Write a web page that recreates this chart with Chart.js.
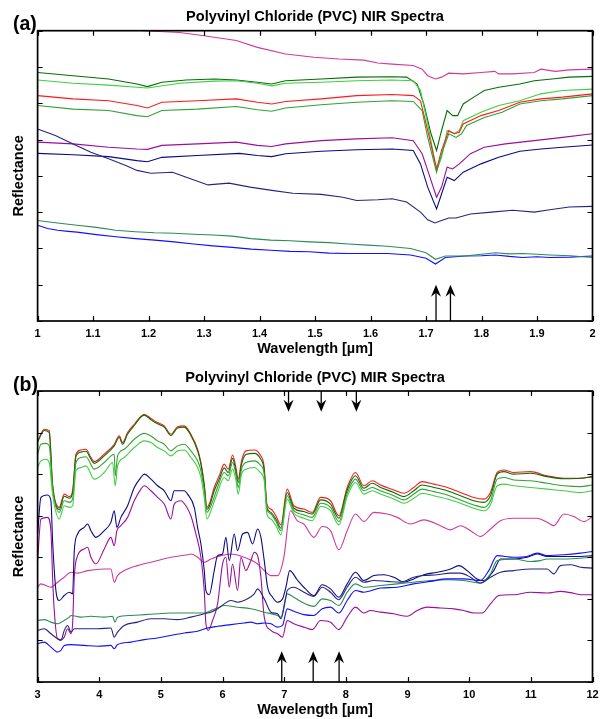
<!DOCTYPE html>
<html><head><meta charset="utf-8">
<script src="https://cdn.jsdelivr.net/npm/chart.js@4.4.0/dist/chart.umd.min.js"></script>
<style>
html,body{margin:0;padding:0;background:#fff;}
#wrap{position:relative;width:607px;height:719px;background:#fff;}
canvas{position:absolute;left:0;}
#ca{top:0;} #cb{top:360px;}
</style></head><body>
<div id="wrap"><canvas id="ca" width="607" height="360"></canvas><canvas id="cb" width="607" height="359"></canvas></div>
<script>
// ---------- Panel (a): NIR spectra, wavelength [um] vs reflectance (relative, tick units) ----------
const NIR_XTICKS = [1, 1.1, 1.2, 1.3, 1.4, 1.5, 1.6, 1.7, 1.8, 1.9, 2];
const NIR_XLABELS = ['1','1.1','1.2','1.3','1.4','1.5','1.6','1.7','1.8','1.9','2'];
const NIR_YTICKS = [0,1,2,3,4,5,6,7,8];

const NIR_PINK = [[1.0,8.25],[1.192,8.0],[1.256,7.95],[1.300,7.86],[1.358,7.73],[1.396,7.54],[1.447,7.36],[1.498,7.27],[1.543,7.22],[1.588,7.19],[1.613,7.11],[1.639,7.08],[1.677,7.04],[1.693,6.94],[1.703,6.76],[1.717,6.67],[1.728,6.72],[1.741,6.83],[1.767,6.81],[1.799,6.85],[1.824,6.88],[1.831,6.81],[1.856,6.81],[1.895,6.85],[1.907,6.94],[1.933,6.88],[1.958,6.92],[2.0,6.94]];
const NIR_DKGREEN = [[1.0,6.85],[1.064,6.76],[1.128,6.67],[1.179,6.53],[1.198,6.46],[1.224,6.58],[1.268,6.64],[1.319,6.67],[1.358,6.64],[1.396,6.58],[1.422,6.53],[1.447,6.62],[1.511,6.67],[1.575,6.72],[1.639,6.73],[1.665,6.72],[1.684,6.53],[1.696,5.98],[1.709,5.16],[1.719,4.70],[1.728,5.25],[1.738,5.80],[1.748,5.66],[1.757,5.66],[1.767,5.98],[1.786,6.17],[1.805,6.35],[1.831,6.44],[1.869,6.53],[1.895,6.62],[1.927,6.67],[1.958,6.72],[2.0,6.74]];
const NIR_LTGREEN = [[1.0,6.64],[1.064,6.55],[1.128,6.50],[1.179,6.44],[1.198,6.42],[1.256,6.55],[1.319,6.61],[1.358,6.62],[1.396,6.55],[1.422,6.48],[1.447,6.55],[1.511,6.58],[1.575,6.62],[1.639,6.64],[1.677,6.62],[1.690,6.35],[1.703,5.43],[1.719,4.15],[1.728,4.51],[1.738,5.25],[1.751,5.16],[1.760,5.25],[1.767,5.52],[1.799,5.75],[1.831,5.94],[1.869,6.07],[1.907,6.26],[1.946,6.35],[2.0,6.39]];
const NIR_RED = [[1.0,6.21],[1.064,6.12],[1.128,6.07],[1.179,5.94],[1.198,5.87],[1.224,6.03],[1.288,6.07],[1.358,6.12],[1.396,6.03],[1.422,5.98],[1.447,6.05],[1.511,6.12],[1.575,6.21],[1.639,6.24],[1.677,6.21],[1.690,6.07],[1.703,5.25],[1.719,4.19],[1.728,4.70],[1.741,5.25],[1.751,5.16],[1.760,5.20],[1.767,5.43],[1.799,5.66],[1.831,5.80],[1.869,6.03],[1.907,6.12],[1.946,6.17],[2.0,6.26]];
const NIR_MIDGREEN = [[1.0,5.94],[1.064,5.84],[1.128,5.80],[1.179,5.66],[1.198,5.63],[1.224,5.80],[1.288,5.84],[1.358,5.91],[1.396,5.82],[1.422,5.78],[1.447,5.87],[1.511,5.96],[1.575,6.03],[1.639,6.07],[1.677,6.05],[1.693,5.80],[1.703,5.06],[1.719,4.10],[1.728,4.61],[1.741,5.16],[1.754,5.06],[1.764,5.16],[1.773,5.39],[1.805,5.61],[1.837,5.75],[1.869,5.98],[1.907,6.07],[1.946,6.12],[2.0,6.21]];
const NIR_PURPLE = [[1.0,4.93],[1.064,4.88],[1.128,4.79],[1.179,4.74],[1.198,4.73],[1.224,4.84],[1.288,4.88],[1.358,4.93],[1.396,4.84],[1.422,4.81],[1.447,4.88],[1.511,4.97],[1.575,5.02],[1.639,5.05],[1.677,4.97],[1.693,4.61],[1.703,4.15],[1.719,3.41],[1.728,3.69],[1.738,4.24],[1.748,4.19],[1.760,4.33],[1.780,4.61],[1.805,4.79],[1.843,4.88],[1.895,4.97],[1.946,5.06],[2.0,5.16]];
const NIR_NAVY1 = [[1.0,4.62],[1.064,4.58],[1.128,4.53],[1.179,4.42],[1.198,4.39],[1.224,4.51],[1.288,4.56],[1.364,4.62],[1.396,4.56],[1.422,4.53],[1.447,4.61],[1.511,4.68],[1.575,4.72],[1.639,4.74],[1.677,4.70],[1.690,4.33],[1.703,3.69],[1.719,3.09],[1.728,3.50],[1.738,3.96],[1.751,3.87],[1.767,4.10],[1.799,4.33],[1.831,4.51],[1.869,4.68],[1.907,4.74],[1.946,4.79],[2.0,4.85]];
const NIR_NAVY2 = [[1.0,5.29],[1.032,5.11],[1.064,4.88],[1.096,4.65],[1.128,4.47],[1.160,4.28],[1.179,4.15],[1.204,4.07],[1.243,4.10],[1.268,3.96],[1.307,3.75],[1.345,3.80],[1.383,3.69],[1.422,3.60],[1.460,3.52],[1.511,3.49],[1.550,3.41],[1.575,3.32],[1.613,3.34],[1.639,3.37],[1.665,3.28],[1.690,3.00],[1.703,2.79],[1.716,2.70],[1.728,2.77],[1.741,2.84],[1.754,2.84],[1.780,2.95],[1.818,3.00],[1.856,3.05],[1.895,3.00],[1.920,3.06],[1.958,3.14],[2.0,3.16]];
const NIR_SEAGREEN = [[1.0,2.77],[1.036,2.70],[1.071,2.64],[1.106,2.58],[1.141,2.50],[1.176,2.46],[1.211,2.43],[1.246,2.42],[1.281,2.39],[1.316,2.37],[1.351,2.34],[1.385,2.27],[1.420,2.23],[1.455,2.21],[1.490,2.18],[1.525,2.16],[1.560,2.12],[1.595,2.09],[1.630,2.06],[1.672,2.0],[1.700,1.88],[1.717,1.70],[1.735,1.79],[1.770,1.79],[1.800,1.84],[1.825,1.88],[1.850,1.85],[1.874,1.86],[1.900,1.84],[1.923,1.82],[1.960,1.80],[2.0,1.75]];
const NIR_BLUE = [[1.0,2.64],[1.018,2.55],[1.036,2.50],[1.055,2.47],[1.071,2.45],[1.106,2.38],[1.141,2.32],[1.176,2.27],[1.211,2.23],[1.246,2.18],[1.281,2.12],[1.316,2.07],[1.351,2.03],[1.385,1.98],[1.420,1.95],[1.455,1.92],[1.490,1.91],[1.525,1.87],[1.560,1.86],[1.595,1.86],[1.630,1.86],[1.672,1.82],[1.700,1.73],[1.717,1.57],[1.735,1.75],[1.770,1.79],[1.800,1.80],[1.825,1.82],[1.850,1.78],[1.874,1.75],[1.900,1.77],[1.923,1.75],[1.960,1.76],[2.0,1.79]];

const NIR_ARROWS_UP = [1.718, 1.744];
const NIR_ARROW_TIP = 1.0;

// ---------- Panel (b): MIR spectra ----------
const MIR_XTICKS = [3,4,5,6,7,8,9,10,11,12];
const MIR_XLABELS = ['3','4','5','6','7','8','9','10','11','12'];
const MIR_YTICKS = [0,1,2,3,4,5,6,7];

const MIR_RED = [[3.000,5.80],[3.108,6.08],[3.189,6.04],[3.243,4.76],[3.351,4.20],[3.432,4.52],[3.514,4.46],[3.568,4.60],[3.622,5.48],[3.703,5.58],[3.784,5.60],[3.865,5.40],[3.919,5.30],[4.081,5.48],[4.243,5.72],[4.324,5.92],[4.378,5.76],[4.459,6.00],[4.568,6.20],[4.730,6.44],[4.838,6.34],[4.946,6.24],[5.054,6.16],[5.162,5.96],[5.270,6.14],[5.378,6.16],[5.486,5.96],[5.595,5.60],[5.649,5.28],[5.703,4.76],[5.746,4.20],[5.784,4.28],[5.865,4.68],[5.946,4.96],[6.027,5.24],[6.092,5.12],[6.162,5.46],[6.216,5.16],[6.254,4.88],[6.308,5.32],[6.378,5.56],[6.514,5.58],[6.611,5.46],[6.676,5.16],[6.719,4.28],[6.784,4.16],[6.865,4.00],[6.946,3.78],[7.048,4.64],[7.156,4.24],[7.318,4.16],[7.454,4.08],[7.589,4.44],[7.751,4.36],[7.886,4.00],[8.021,4.68],[8.156,5.04],[8.291,4.72],[8.426,4.84],[8.562,4.74],[8.778,4.62],[8.940,4.54],[9.102,4.68],[9.237,4.82],[9.426,4.76],[9.643,4.68],[9.859,4.56],[10.075,4.44],[10.237,4.40],[10.345,4.56],[10.454,5.04],[10.562,5.10],[10.724,5.04],[10.994,5.06],[11.264,4.96],[11.535,4.90],[11.805,4.90],[12.0,4.94]];
const MIR_DKGREEN = [[3.000,5.77],[3.108,6.05],[3.189,6.00],[3.243,4.72],[3.351,4.15],[3.432,4.47],[3.514,4.42],[3.568,4.55],[3.622,5.42],[3.703,5.53],[3.784,5.55],[3.865,5.36],[3.919,5.26],[4.081,5.44],[4.243,5.68],[4.324,5.88],[4.378,5.72],[4.459,5.96],[4.568,6.17],[4.730,6.42],[4.838,6.31],[4.946,6.21],[5.054,6.13],[5.162,5.93],[5.270,6.11],[5.378,6.13],[5.486,5.93],[5.595,5.56],[5.649,5.24],[5.703,4.72],[5.746,4.15],[5.784,4.22],[5.865,4.60],[5.946,4.88],[6.027,5.15],[6.092,5.04],[6.162,5.38],[6.216,5.08],[6.254,4.80],[6.308,5.24],[6.378,5.47],[6.514,5.50],[6.611,5.38],[6.676,5.08],[6.719,4.20],[6.784,4.08],[6.865,3.92],[6.946,3.70],[7.048,4.56],[7.156,4.18],[7.318,4.10],[7.454,4.04],[7.589,4.38],[7.751,4.28],[7.886,3.94],[8.021,4.62],[8.156,4.96],[8.291,4.66],[8.426,4.78],[8.562,4.68],[8.778,4.56],[8.940,4.46],[9.102,4.60],[9.237,4.74],[9.426,4.68],[9.643,4.60],[9.859,4.48],[10.075,4.36],[10.237,4.32],[10.345,4.48],[10.454,5.00],[10.562,5.06],[10.724,5.00],[10.994,5.02],[11.264,4.94],[11.535,4.89],[11.805,4.90],[12.0,4.94]];
const MIR_MIDGREEN = [[3.000,5.48],[3.054,5.72],[3.135,5.74],[3.189,5.68],[3.243,4.68],[3.351,4.08],[3.432,4.36],[3.514,4.32],[3.568,4.40],[3.622,5.28],[3.703,5.40],[3.784,5.42],[3.919,5.12],[4.081,5.28],[4.243,5.48],[4.259,4.96],[4.297,5.44],[4.405,5.60],[4.568,5.84],[4.730,5.98],[4.838,5.92],[4.946,5.80],[5.054,5.72],[5.162,5.56],[5.270,5.68],[5.378,5.72],[5.486,5.56],[5.595,5.32],[5.649,5.08],[5.703,4.60],[5.746,4.08],[5.811,4.24],[5.919,4.68],[6.027,5.04],[6.092,4.96],[6.162,5.28],[6.216,5.00],[6.254,4.68],[6.308,5.12],[6.378,5.28],[6.514,5.32],[6.611,5.22],[6.676,5.00],[6.719,4.16],[6.784,4.04],[6.865,3.86],[6.946,3.64],[7.048,4.48],[7.156,4.12],[7.318,4.02],[7.454,3.96],[7.589,4.30],[7.751,4.20],[7.886,3.86],[8.021,4.54],[8.156,4.88],[8.291,4.60],[8.426,4.68],[8.562,4.60],[8.778,4.48],[8.940,4.38],[9.102,4.52],[9.237,4.64],[9.426,4.58],[9.643,4.50],[9.859,4.38],[10.075,4.26],[10.237,4.20],[10.345,4.36],[10.454,4.88],[10.562,4.92],[10.724,4.86],[10.994,4.84],[11.264,4.78],[11.535,4.72],[11.805,4.70],[12.0,4.74]];
const MIR_LTGREEN = [[3.000,5.16],[3.054,5.32],[3.135,5.36],[3.189,5.28],[3.243,4.52],[3.351,3.92],[3.432,4.24],[3.514,4.20],[3.568,4.24],[3.622,5.08],[3.703,5.16],[3.784,5.20],[3.919,4.88],[4.081,5.04],[4.216,5.28],[4.259,4.72],[4.297,5.20],[4.405,5.40],[4.568,5.64],[4.730,5.80],[4.838,5.76],[4.946,5.64],[5.054,5.56],[5.162,5.44],[5.270,5.56],[5.378,5.58],[5.486,5.40],[5.595,5.16],[5.649,4.92],[5.703,4.44],[5.746,3.92],[5.811,4.12],[5.919,4.56],[6.027,4.92],[6.092,4.84],[6.162,5.12],[6.216,4.86],[6.254,4.52],[6.308,5.00],[6.378,5.12],[6.514,5.16],[6.611,5.04],[6.676,4.84],[6.719,4.04],[6.784,3.92],[6.865,3.76],[6.946,3.54],[7.048,4.40],[7.156,4.06],[7.318,3.94],[7.454,3.88],[7.589,4.22],[7.751,4.12],[7.886,3.78],[8.021,4.46],[8.156,4.80],[8.291,4.52],[8.426,4.60],[8.562,4.52],[8.778,4.40],[8.940,4.30],[9.102,4.42],[9.237,4.54],[9.426,4.48],[9.643,4.40],[9.859,4.30],[10.075,4.18],[10.237,4.12],[10.345,4.26],[10.454,4.72],[10.562,4.76],[10.724,4.72],[10.994,4.68],[11.264,4.64],[11.535,4.60],[11.805,4.56],[12.0,4.60]];
const MIR_PINK = [[3.000,2.28],[3.054,2.36],[3.216,2.28],[3.324,2.40],[3.432,2.52],[3.541,2.64],[3.649,2.62],[3.811,2.68],[4.081,2.72],[4.189,2.72],[4.243,2.40],[4.297,2.56],[4.405,2.68],[4.622,2.80],[4.892,2.90],[5.162,3.00],[5.432,3.06],[5.486,3.08],[5.595,3.00],[5.703,2.88],[5.811,2.96],[5.973,3.04],[6.135,3.08],[6.351,3.00],[6.568,2.84],[6.676,2.68],[6.784,2.56],[6.892,2.56],[6.994,3.00],[7.102,4.12],[7.210,3.88],[7.318,3.80],[7.481,3.48],[7.616,3.74],[7.751,3.64],[7.886,3.18],[8.021,3.64],[8.156,4.04],[8.291,3.86],[8.454,4.08],[8.670,4.04],[8.832,3.96],[9.048,3.80],[9.264,3.90],[9.534,3.76],[9.697,3.66],[9.859,3.76],[10.021,3.64],[10.183,3.50],[10.345,3.68],[10.508,3.88],[10.724,3.94],[11.102,3.94],[11.264,3.84],[11.372,3.76],[11.535,4.04],[11.697,3.98],[11.859,3.86],[12.0,3.98]];
const MIR_NAVY1 = [[3.000,3.56],[3.054,4.44],[3.162,4.50],[3.216,4.36],[3.243,3.40],[3.297,2.20],[3.351,1.96],[3.432,2.08],[3.514,2.16],[3.568,2.12],[3.595,3.16],[3.649,3.56],[3.757,3.72],[3.811,3.80],[3.865,3.64],[3.946,3.48],[4.081,3.64],[4.189,3.84],[4.243,4.12],[4.286,3.72],[4.351,3.96],[4.459,4.24],[4.568,4.68],[4.676,4.92],[4.730,5.00],[4.838,4.88],[4.946,4.72],[5.054,4.60],[5.162,4.36],[5.216,4.60],[5.378,4.60],[5.432,4.52],[5.541,4.20],[5.595,3.72],[5.649,3.32],[5.703,2.68],[5.730,2.20],[5.784,2.10],[5.865,2.68],[5.919,3.04],[6.0,3.08],[6.054,3.48],[6.108,2.92],[6.189,3.56],[6.243,3.16],[6.324,3.56],[6.405,3.60],[6.486,3.32],[6.568,3.68],[6.622,3.48],[6.676,2.92],[6.730,2.28],[6.811,2.04],[6.892,1.92],[6.973,2.00],[7.027,2.28],[7.090,2.68],[7.210,2.46],[7.345,2.24],[7.481,2.08],[7.616,2.34],[7.751,2.24],[7.886,2.04],[8.021,2.36],[8.156,2.64],[8.291,2.44],[8.454,2.56],[8.616,2.58],[8.778,2.52],[8.940,2.40],[9.102,2.48],[9.264,2.58],[9.480,2.64],[9.697,2.72],[9.832,2.80],[9.967,2.68],[10.129,2.48],[10.237,2.44],[10.399,2.68],[10.508,2.96],[10.724,2.96],[10.940,3.00],[11.102,3.08],[11.264,3.02],[11.535,3.02],[11.805,3.02],[12.0,3.04]];
const MIR_PURPLE = [[3.000,2.92],[3.054,3.92],[3.162,3.96],[3.216,3.64],[3.243,2.52],[3.270,1.72],[3.324,1.04],[3.378,1.02],[3.432,1.08],[3.486,1.28],[3.541,1.16],[3.568,1.40],[3.595,2.52],[3.649,3.04],[3.757,3.20],[3.811,3.24],[3.865,3.00],[3.946,2.84],[4.081,3.20],[4.189,3.48],[4.243,3.28],[4.286,3.64],[4.351,3.76],[4.459,3.96],[4.568,4.36],[4.676,4.64],[4.730,4.72],[4.838,4.60],[4.946,4.44],[5.054,4.28],[5.162,3.92],[5.216,4.28],[5.324,4.36],[5.405,4.24],[5.486,4.00],[5.568,3.56],[5.649,3.00],[5.703,2.20],[5.730,1.40],[5.768,1.24],[5.838,1.48],[5.919,1.88],[6.0,2.84],[6.054,3.00],[6.108,2.28],[6.162,2.84],[6.243,2.20],[6.297,3.00],[6.378,2.68],[6.459,2.92],[6.514,3.12],[6.568,3.04],[6.622,2.52],[6.676,1.56],[6.784,1.24],[6.892,1.16],[6.973,1.08],[7.027,1.40],[7.048,1.48],[7.156,1.40],[7.318,1.32],[7.454,1.26],[7.589,1.48],[7.751,1.44],[7.886,1.26],[8.021,1.56],[8.156,1.80],[8.291,1.66],[8.399,1.72],[8.562,1.68],[8.778,1.64],[8.994,1.58],[9.156,1.72],[9.318,1.80],[9.534,1.78],[9.751,1.76],[9.913,1.72],[10.075,1.66],[10.210,1.66],[10.345,1.88],[10.481,2.08],[10.724,2.10],[10.994,2.16],[11.264,2.14],[11.480,2.18],[11.643,2.15],[11.805,2.10],[12.0,2.10]];
const MIR_SEAGREEN = [[3.000,1.48],[3.108,1.50],[3.216,1.44],[3.324,1.40],[3.432,1.48],[3.514,1.56],[3.541,1.60],[3.703,1.56],[3.865,1.58],[4.081,1.56],[4.216,1.58],[4.254,1.44],[4.297,1.56],[4.514,1.60],[4.730,1.62],[4.946,1.64],[5.162,1.66],[5.378,1.66],[5.595,1.66],[5.703,1.66],[5.811,1.72],[5.946,1.80],[6.027,1.84],[6.243,1.80],[6.459,1.76],[6.676,1.68],[6.892,1.60],[6.946,1.56],[7.048,2.12],[7.156,2.04],[7.264,1.94],[7.481,1.82],[7.616,2.00],[7.751,1.96],[7.886,1.84],[8.021,2.16],[8.156,2.36],[8.291,2.28],[8.562,2.32],[8.832,2.36],[9.102,2.40],[9.372,2.44],[9.643,2.46],[9.913,2.44],[10.183,2.38],[10.345,2.60],[10.454,2.92],[10.724,2.96],[10.994,2.90],[11.156,2.92],[11.264,2.96],[11.535,2.96],[12.0,3.00]];
const MIR_NAVY2 = [[3.000,1.24],[3.108,1.28],[3.216,1.16],[3.324,1.04],[3.378,1.00],[3.432,1.24],[3.486,1.36],[3.541,1.20],[3.595,1.28],[3.757,1.28],[3.973,1.28],[4.189,1.30],[4.243,1.08],[4.297,1.20],[4.405,1.36],[4.622,1.44],[4.838,1.52],[5.054,1.52],[5.270,1.50],[5.486,1.56],[5.703,1.64],[5.811,1.68],[5.919,1.76],[6.027,1.88],[6.135,1.96],[6.243,1.92],[6.405,2.00],[6.514,2.12],[6.568,2.24],[6.676,2.00],[6.784,1.68],[6.892,1.64],[6.946,1.52],[7.027,2.04],[7.048,2.20],[7.156,2.28],[7.318,2.16],[7.481,2.06],[7.616,2.28],[7.751,2.16],[7.886,1.98],[8.021,2.28],[8.156,2.52],[8.291,2.40],[8.454,2.44],[8.670,2.42],[8.886,2.40],[9.102,2.52],[9.264,2.56],[9.480,2.58],[9.697,2.62],[9.859,2.62],[10.021,2.52],[10.183,2.38],[10.345,2.52],[10.508,2.64],[10.724,2.68],[10.994,2.72],[11.264,2.72],[11.372,2.60],[11.480,2.80],[11.643,2.82],[11.805,2.76],[12.0,2.74]];
const MIR_BLUE = [[3.000,0.92],[3.108,0.96],[3.216,0.84],[3.324,0.72],[3.378,0.76],[3.432,0.88],[3.541,0.90],[3.757,0.88],[3.973,0.86],[4.189,0.88],[4.243,0.80],[4.297,0.90],[4.514,0.96],[4.730,1.02],[4.946,1.06],[5.162,1.12],[5.378,1.18],[5.595,1.22],[5.757,1.30],[5.919,1.34],[6.135,1.38],[6.351,1.42],[6.459,1.44],[6.568,1.40],[6.676,1.42],[6.784,1.40],[6.892,1.32],[6.973,1.36],[7.048,1.76],[7.156,1.70],[7.318,1.62],[7.481,1.60],[7.616,1.76],[7.751,1.80],[7.886,1.66],[8.021,1.96],[8.156,2.20],[8.291,2.16],[8.562,2.26],[8.832,2.28],[9.102,2.36],[9.372,2.42],[9.643,2.48],[9.913,2.48],[10.183,2.44],[10.318,2.68],[10.454,3.04],[10.724,3.00],[10.940,3.02],[11.102,3.10],[11.264,3.04],[11.535,3.06],[11.805,3.10],[12.0,3.14]];

const MIR_ARROWS_DOWN = [7.07, 7.6, 8.17];
const MIR_DOWN_TIP = 6.5;
const MIR_ARROWS_UP = [6.96, 7.47, 7.89];
const MIR_UP_TIP = 0.74;

// ---------- styles ----------
const C = {pink:'#d13a9c', dkgreen:'#056f05', ltgreen:'#3fcf3f', red:'#ff1a1a', midgreen:'#34a034',
  purple:'#9a0f9a', navy1:'#0a0a84', navy2:'#252580', seagreen:'#2e8b57', blue:'#1010ff'};
const FONT = '"Liberation Sans", Arial, Helvetica, sans-serif';

function ds(pairs, color, smooth) {
  return {data: pairs.map(p => ({x:p[0], y:p[1]})), borderColor: color, borderWidth: 1.1,
    pointRadius: 0, fill: false, cubicInterpolationMode: smooth ? 'monotone' : 'default', tension: 0};
}

function drawArrow(ctx, x, yBase, yTip) {
  const d = Math.sign(yTip - yBase);
  const hl = 12, hw = 5, notch = 8;
  ctx.beginPath();
  ctx.moveTo(x, yBase); ctx.lineTo(x, yTip - d*notch); ctx.stroke();
  ctx.beginPath();
  ctx.moveTo(x, yTip);
  ctx.lineTo(x - hw, yTip - d*hl);
  ctx.lineTo(x, yTip - d*notch);
  ctx.lineTo(x + hw, yTip - d*hl);
  ctx.closePath(); ctx.fill();
}

function decor(cfg) {
  return {
    id: 'decor',
    afterDatasetsDraw(chart) {
      const {ctx, chartArea: a, scales: {x, y}} = chart;
      ctx.save();
      ctx.strokeStyle = '#000'; ctx.fillStyle = '#000'; ctx.lineWidth = 1.3;
      (cfg.upArrows || []).forEach(v => drawArrow(ctx, x.getPixelForValue(v), a.bottom, y.getPixelForValue(cfg.upTip)));
      (cfg.downArrows || []).forEach(v => drawArrow(ctx, x.getPixelForValue(v), a.top, y.getPixelForValue(cfg.downTip)));
      // inward ticks
      ctx.lineWidth = 1.2;
      ctx.beginPath();
      cfg.xticks.forEach(v => { const px = Math.round(x.getPixelForValue(v)) + 0.5;
        ctx.moveTo(px, a.bottom); ctx.lineTo(px, a.bottom - 5);
        ctx.moveTo(px, a.top); ctx.lineTo(px, a.top + 5); });
      cfg.yticks.forEach(v => { const py = Math.round(y.getPixelForValue(v)) + 0.5;
        ctx.moveTo(a.left, py); ctx.lineTo(a.left + 5, py);
        ctx.moveTo(a.right, py); ctx.lineTo(a.right - 5, py); });
      ctx.stroke();
      // frame
      ctx.lineWidth = 1.7;
      ctx.strokeRect(a.left, a.top, a.right - a.left, a.bottom - a.top);
      // tick labels
      ctx.font = 'bold 11px ' + FONT; ctx.textAlign = 'center'; ctx.textBaseline = 'middle';
      cfg.xticks.forEach((v, i) => ctx.fillText(cfg.xlabels[i], x.getPixelForValue(v), cfg.labelY));
      // axis titles
      ctx.font = 'bold 14.5px ' + FONT;
      ctx.fillText('Wavelength [\u00b5m]', (a.left + a.right) / 2, cfg.xTitleY);
      ctx.save(); ctx.translate(19, (a.top + a.bottom) / 2); ctx.rotate(-Math.PI / 2);
      ctx.fillText('Reflectance', 0, 0); ctx.restore();
      // title and panel tag
      ctx.textBaseline = 'alphabetic';
      ctx.font = 'bold 14.6px ' + FONT;
      ctx.fillText(cfg.title, (a.left + a.right) / 2, cfg.titleY);
      ctx.textAlign = 'left'; ctx.font = 'bold 19.5px ' + FONT;
      ctx.fillText(cfg.tag, 13, cfg.tagY);
      ctx.restore();
    }
  };
}

function makeChart(id, datasets, cfg) {
  return new Chart(document.getElementById(id), {
    type: 'line',
    data: {datasets},
    options: {
      responsive: false, animation: false, devicePixelRatio: 1,
      layout: {padding: cfg.pad},
      plugins: {legend: {display: false}, tooltip: {enabled: false}, title: {display: false}},
      scales: {
        x: {type: 'linear', display: false, min: cfg.xticks[0], max: cfg.xticks[cfg.xticks.length - 1]},
        y: {type: 'linear', display: false, min: 0, max: cfg.yticks[cfg.yticks.length - 1]}
      }
    },
    plugins: [decor(cfg)]
  });
}

makeChart('ca', [
  ds(NIR_SEAGREEN, C.seagreen), ds(NIR_BLUE, C.blue), ds(NIR_NAVY2, C.navy2),
  ds(NIR_NAVY1, C.navy1), ds(NIR_PURPLE, C.purple), ds(NIR_MIDGREEN, C.midgreen),
  ds(NIR_RED, C.red), ds(NIR_LTGREEN, C.ltgreen), ds(NIR_DKGREEN, C.dkgreen), ds(NIR_PINK, C.pink)
], {
  pad: {left: 37.6, right: 14.5, top: 30.7, bottom: 39},
  xticks: NIR_XTICKS, xlabels: NIR_XLABELS, yticks: NIR_YTICKS,
  upArrows: NIR_ARROWS_UP, upTip: NIR_ARROW_TIP,
  labelY: 333.5, xTitleY: 349, title: 'Polyvinyl Chloride (PVC) NIR Spectra', titleY: 21, tag: '(a)', tagY: 29.5
});

makeChart('cb', [
  ds(MIR_BLUE, C.blue, true), ds(MIR_NAVY2, C.navy2, true), ds(MIR_SEAGREEN, C.seagreen, true),
  ds(MIR_PURPLE, C.purple, true), ds(MIR_NAVY1, C.navy1, true), ds(MIR_PINK, C.pink, true),
  ds(MIR_LTGREEN, C.ltgreen, true), ds(MIR_MIDGREEN, C.midgreen, true), ds(MIR_DKGREEN, C.dkgreen, true), ds(MIR_RED, C.red, true)
], {
  pad: {left: 37.6, right: 14.5, top: 31, bottom: 37},
  xticks: MIR_XTICKS, xlabels: MIR_XLABELS, yticks: MIR_YTICKS,
  upArrows: MIR_ARROWS_UP, upTip: MIR_UP_TIP, downArrows: MIR_ARROWS_DOWN, downTip: MIR_DOWN_TIP,
  labelY: 334.5, xTitleY: 350, title: 'Polyvinyl Chloride (PVC) MIR Spectra', titleY: 21.5, tag: '(b)', tagY: 31
});
</script>
</body></html>
